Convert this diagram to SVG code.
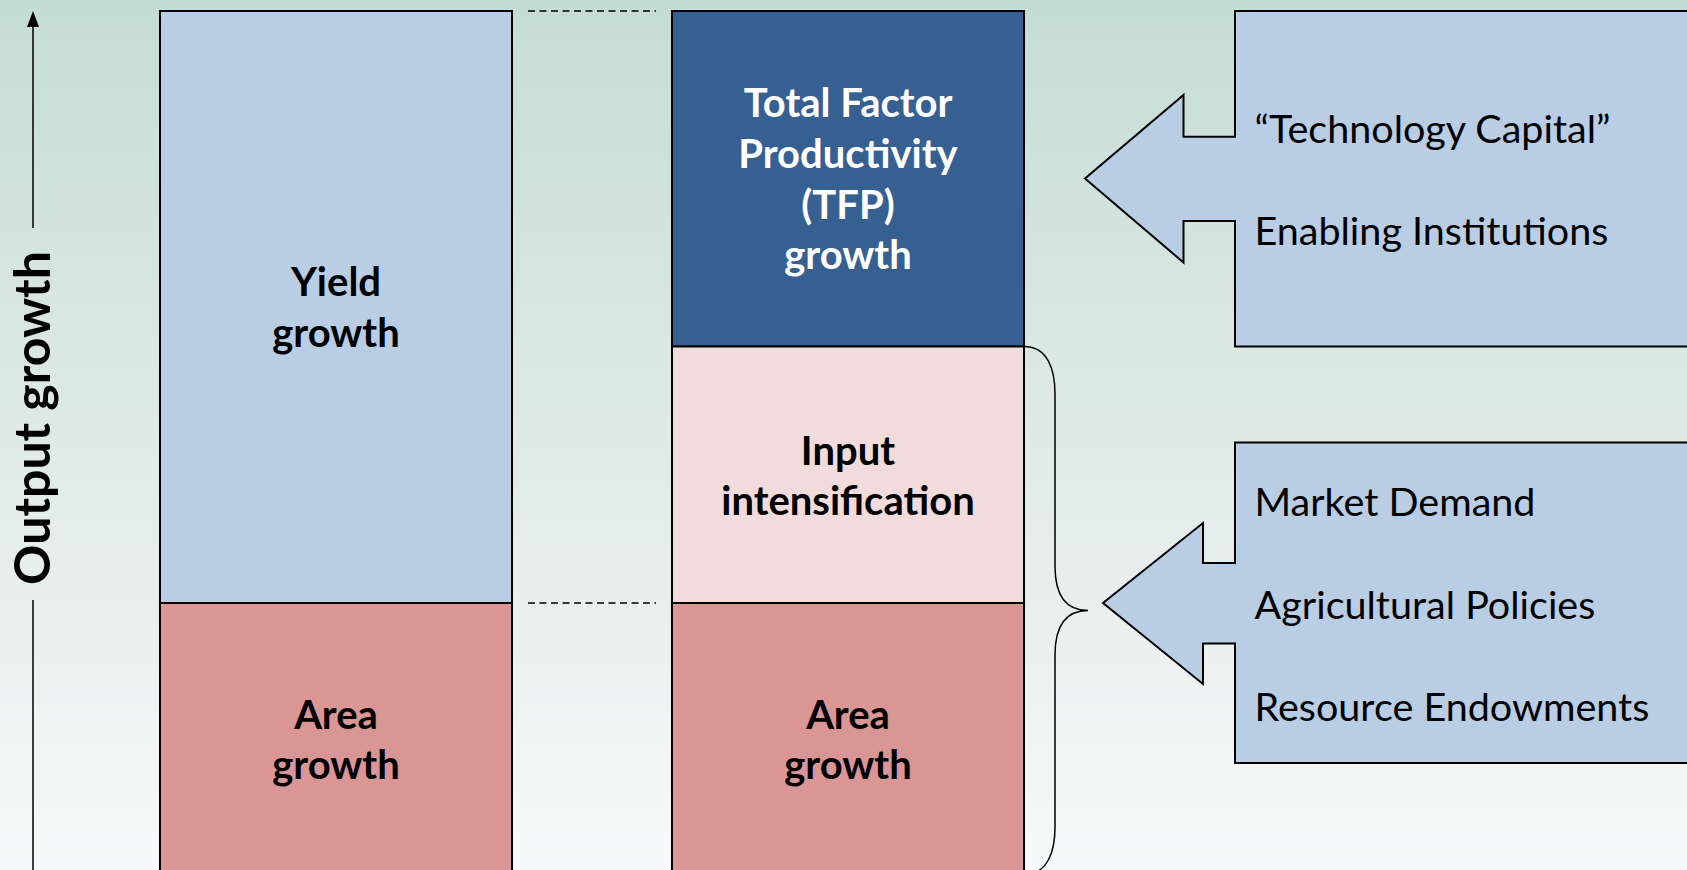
<svg xmlns="http://www.w3.org/2000/svg" width="1687" height="870" viewBox="0 0 1687 870">
  <defs>
    <linearGradient id="bg" x1="0" y1="0" x2="0" y2="1">
      <stop offset="0" stop-color="#c5dcd5"/>
      <stop offset="0.5" stop-color="#dfeae7"/>
      <stop offset="1" stop-color="#f6f9f9"/>
    </linearGradient>
    <style>
      .box { stroke: #000; stroke-width: 2; }
      .yield { fill: #b9cde5; }
      .area { fill: #d99694; }
      .tfp { fill: #376092; }
      .input { fill: #f2dcdb; }
      .callout { fill: #b9cde5; stroke: #000; stroke-width: 2; stroke-linejoin: miter; }
      .lbl { font-family: "Lato", "Liberation Sans", sans-serif; font-weight: bold; font-size: 40px; text-anchor: middle; fill: #000; }
      .lbl.w { fill: #fff; }
      .item { font-family: "Lato", "Liberation Sans", sans-serif; font-size: 39.5px; fill: #000; }
      .axis { font-family: "Lato", "Liberation Sans", sans-serif; font-weight: bold; font-size: 50px; text-anchor: middle; fill: #000; }
      .dash { stroke: #000; stroke-width: 1.6; stroke-dasharray: 7 4.5; fill: none; }
      .line { stroke: #000; stroke-width: 1.5; fill: none; }
    </style>
  </defs>

  <rect x="0" y="0" width="1687" height="870" fill="url(#bg)"/>

  <!-- vertical axis -->
  <g id="axis">
    <line class="line" x1="33" y1="228" x2="33" y2="24"/>
    <polygon points="33,11 27,27 39,27" fill="#000"/>
    <line class="line" x1="33" y1="600" x2="33" y2="872"/>
    <text class="axis" transform="translate(50,418) rotate(-90)">Output growth</text>
  </g>

  <!-- left column -->
  <g id="yield-growth">
    <rect class="box yield" x="160" y="11" width="352" height="592"/>
    <text class="lbl" x="336" y="296">Yield</text>
    <text class="lbl" x="336" y="346.5">growth</text>
  </g>
  <g id="area-growth-left">
    <rect class="box area" x="160" y="603" width="352" height="280"/>
    <text class="lbl" x="336" y="728.5">Area</text>
    <text class="lbl" x="336" y="779">growth</text>
  </g>

  <!-- middle column -->
  <g id="tfp-growth">
    <rect class="box tfp" x="672" y="11" width="352" height="335.5"/>
    <text class="lbl w" x="848" y="117">Total Factor</text>
    <text class="lbl w" x="848" y="168">Productivity</text>
    <text class="lbl w" x="848" y="218.5">(TFP)</text>
    <text class="lbl w" x="848" y="269">growth</text>
  </g>
  <g id="input-intensification">
    <rect class="box input" x="672" y="346.5" width="352" height="256.5"/>
    <text class="lbl" x="848" y="465">Input</text>
    <text class="lbl" x="848" y="515">intensification</text>
  </g>
  <g id="area-growth-right">
    <rect class="box area" x="672" y="603" width="352" height="280"/>
    <text class="lbl" x="848" y="728.5">Area</text>
    <text class="lbl" x="848" y="779">growth</text>
  </g>

  <!-- drivers -->
  <g id="tfp-drivers">
    <path class="callout" d="M1700,11 L1235,11 L1235,136.7 L1183.5,136.7 L1183.5,95 L1085,178.5 L1183.5,262.5 L1183.5,221 L1235,221 L1235,346.5 L1700,346.5 Z"/>
    <text class="item" x="1254.5" y="143">“Technology Capital”</text>
    <text class="item" x="1254.5" y="245">Enabling Institutions</text>
  </g>
  <g id="input-drivers">
    <path class="callout" d="M1700,442.5 L1235,442.5 L1235,563 L1203,563 L1203,523 L1103,603 L1203,684 L1203,643.5 L1235,643.5 L1235,763 L1700,763 Z"/>
    <text class="item" x="1254.5" y="516">Market Demand</text>
    <text class="item" x="1254.5" y="619">Agricultural Policies</text>
    <text class="item" x="1254.5" y="721">Resource Endowments</text>
  </g>

  <!-- connectors: guide lines and brace -->
  <g id="connectors">
    <line class="dash" x1="528" y1="11" x2="656" y2="11"/>
    <line class="dash" x1="528" y1="603" x2="656" y2="603"/>
    <path class="line" d="M1024,346.5 C1048,346.5 1055,370 1055,394 L1055,566 C1055,596 1066,610.5 1088,610.5 C1066,610.5 1055,625 1055,655 L1055,827 C1055,851 1048,874.5 1024,874.5"/>
  </g>
</svg>
